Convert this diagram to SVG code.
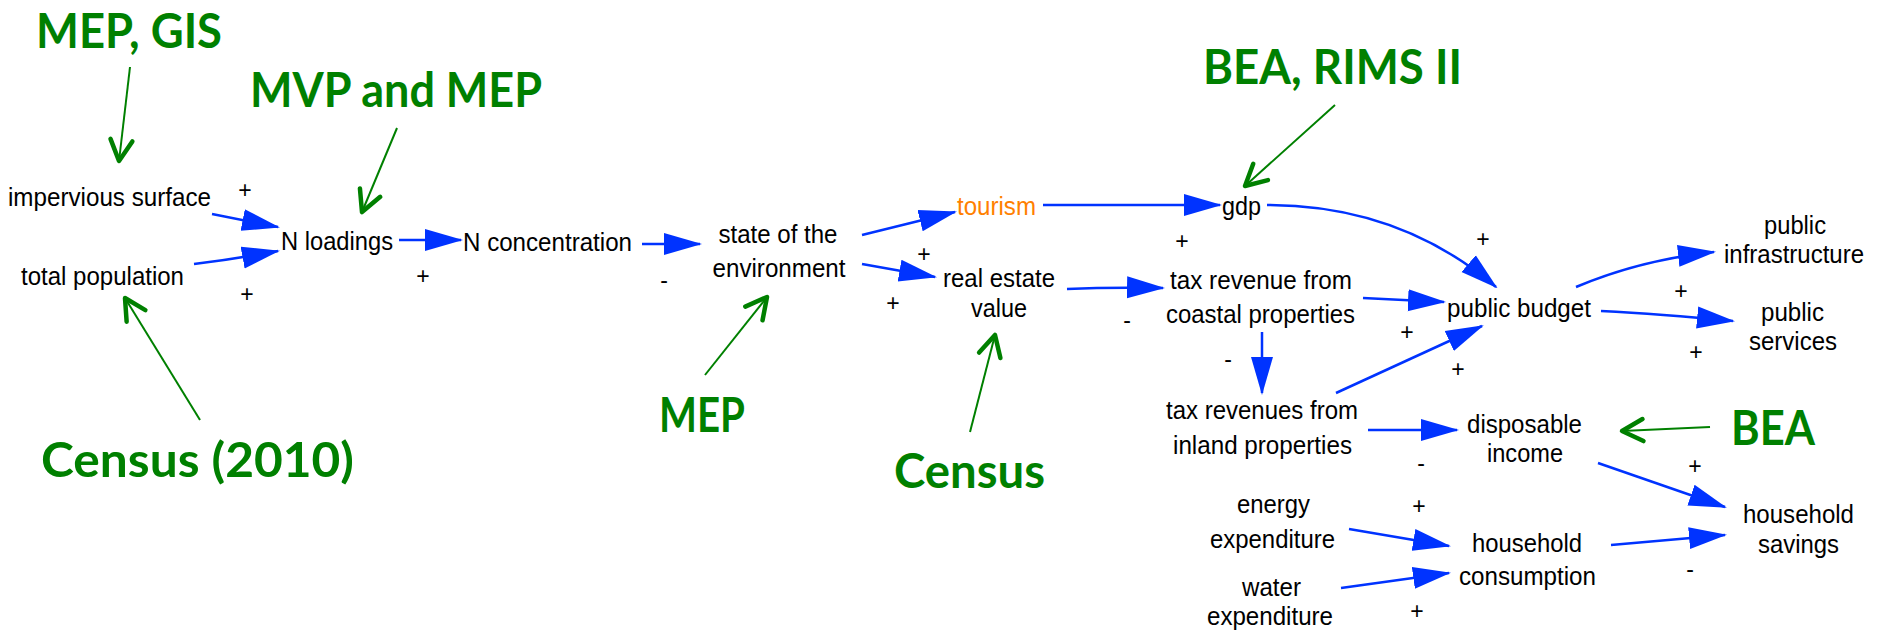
<svg xmlns="http://www.w3.org/2000/svg" width="1879" height="630" viewBox="0 0 1879 630">
<style>
.t{font-family:"Liberation Sans",Arial,sans-serif;font-size:25px;fill:#000;text-anchor:middle}
.s{font-family:"Liberation Sans",Arial,sans-serif;font-size:23px;fill:#000;text-anchor:middle}
.g{font-family:Lato,"Open Sans",sans-serif;font-size:47px;font-weight:bold;fill:#008000}
.b{fill:none;stroke:#0033ff;stroke-width:2.5;marker-end:url(#ah)}
.gl{fill:none;stroke:#008000;stroke-width:2;marker-end:url(#ga)}
</style>
<defs>
<marker id="ah" viewBox="0 0 38 24" refX="36" refY="12" markerWidth="38" markerHeight="24" orient="auto" markerUnits="userSpaceOnUse"><path d="M0,1 L38,12 L0,23 z" fill="#0033ff"/></marker>
<marker id="ga" viewBox="-4 -15 30 30" refX="22" refY="0" markerWidth="30" markerHeight="30" orient="auto" markerUnits="userSpaceOnUse"><path d="M1,-11 L22,0 L1,11" fill="none" stroke="#008000" stroke-width="4.5" stroke-linecap="round" stroke-linejoin="round"/></marker>
</defs>
<rect width="1879" height="630" fill="#fff"/>
<g id="connectors">
<path class="b" d="M212,214 L278,227"/>
<path class="b" d="M194,264 Q235,259 278,251"/>
<path class="b" d="M399,240 L461,240"/>
<path class="b" d="M642,244 L700,244"/>
<path class="b" d="M862,235 L955,212"/>
<path class="b" d="M862,264 L935,277"/>
<path class="b" d="M1043,205 L1220,205"/>
<path class="b" d="M1067,289 Q1110,287 1163,288"/>
<path class="b" d="M1267,205 Q1400,205 1496,287"/>
<path class="b" d="M1363,298 L1444,302"/>
<path class="b" d="M1262,332 L1262,393"/>
<path class="b" d="M1336,393 L1482,326"/>
<path class="b" d="M1576,287 Q1640,260 1714,252"/>
<path class="b" d="M1601,311 Q1660,314 1733,321"/>
<path class="b" d="M1368,430 L1457,430"/>
<path class="b" d="M1598,463 L1725,507"/>
<path class="b" d="M1349,529 L1449,546"/>
<path class="b" d="M1341,588 L1449,573"/>
<path class="b" d="M1611,545 L1725,535"/>
<path class="gl" d="M130,67 L119,161"/>
<path class="gl" d="M397,128 L362,212"/>
<path class="gl" d="M1335,105 L1245,186"/>
<path class="gl" d="M200,420 L125,298"/>
<path class="gl" d="M705,375 L767,297"/>
<path class="gl" d="M970,432 L995,335"/>
<path class="gl" d="M1710,427 L1622,431"/>
</g>
<g id="polarities">
<text class="s" x="245" y="198">+</text>
<text class="s" x="247" y="302">+</text>
<text class="s" x="423" y="284">+</text>
<text class="s" x="924" y="262">+</text>
<text class="s" x="893" y="311">+</text>
<text class="s" x="1182" y="249">+</text>
<text class="s" x="1483" y="247">+</text>
<text class="s" x="1407" y="340">+</text>
<text class="s" x="1458" y="377">+</text>
<text class="s" x="1681" y="299">+</text>
<text class="s" x="1696" y="360">+</text>
<text class="s" x="1695" y="474">+</text>
<text class="s" x="1419" y="514">+</text>
<text class="s" x="1417" y="619">+</text>
<text class="s" x="664" y="288">-</text>
<text class="s" x="1127" y="328">-</text>
<text class="s" x="1228" y="367">-</text>
<text class="s" x="1421" y="471">-</text>
<text class="s" x="1690" y="577">-</text>
</g>
<g id="impervious-surface"><text class="t" x="109.5" y="206" textLength="203" lengthAdjust="spacingAndGlyphs">impervious surface</text></g>
<g id="total-population"><text class="t" x="102.5" y="285" textLength="163" lengthAdjust="spacingAndGlyphs">total population</text></g>
<g id="n-loadings"><text class="t" x="337" y="250" textLength="112" lengthAdjust="spacingAndGlyphs">N loadings</text></g>
<g id="n-concentration"><text class="t" x="547.5" y="251" textLength="169" lengthAdjust="spacingAndGlyphs">N concentration</text></g>
<g id="state-of-environment"><text class="t" x="778" y="243" textLength="119" lengthAdjust="spacingAndGlyphs">state of the</text><text class="t" x="779" y="277" textLength="133" lengthAdjust="spacingAndGlyphs">environment</text></g>
<g id="tourism"><text class="t" x="996.5" y="215" style="fill:#ff8000" textLength="79" lengthAdjust="spacingAndGlyphs">tourism</text></g>
<g id="real-estate-value"><text class="t" x="999" y="287" textLength="112" lengthAdjust="spacingAndGlyphs">real estate</text><text class="t" x="999" y="317" textLength="56" lengthAdjust="spacingAndGlyphs">value</text></g>
<g id="gdp"><text class="t" x="1241.5" y="215" textLength="39" lengthAdjust="spacingAndGlyphs">gdp</text></g>
<g id="tax-coastal"><text class="t" x="1261" y="289" textLength="182" lengthAdjust="spacingAndGlyphs">tax revenue from</text><text class="t" x="1260.5" y="323" textLength="189" lengthAdjust="spacingAndGlyphs">coastal properties</text></g>
<g id="public-budget"><text class="t" x="1519" y="317" textLength="144" lengthAdjust="spacingAndGlyphs">public budget</text></g>
<g id="public-infrastructure"><text class="t" x="1795" y="234" textLength="62" lengthAdjust="spacingAndGlyphs">public</text><text class="t" x="1794" y="263" textLength="140" lengthAdjust="spacingAndGlyphs">infrastructure</text></g>
<g id="public-services"><text class="t" x="1792.5" y="321" textLength="63" lengthAdjust="spacingAndGlyphs">public</text><text class="t" x="1793" y="350" textLength="88" lengthAdjust="spacingAndGlyphs">services</text></g>
<g id="tax-inland"><text class="t" x="1262" y="419" textLength="192" lengthAdjust="spacingAndGlyphs">tax revenues from</text><text class="t" x="1262.5" y="454" textLength="179" lengthAdjust="spacingAndGlyphs">inland properties</text></g>
<g id="disposable-income"><text class="t" x="1524.5" y="433" textLength="115" lengthAdjust="spacingAndGlyphs">disposable</text><text class="t" x="1525" y="462" textLength="76" lengthAdjust="spacingAndGlyphs">income</text></g>
<g id="energy-expenditure"><text class="t" x="1273.5" y="513" textLength="73" lengthAdjust="spacingAndGlyphs">energy</text><text class="t" x="1272.5" y="548" textLength="125" lengthAdjust="spacingAndGlyphs">expenditure</text></g>
<g id="household-consumption"><text class="t" x="1527" y="552" textLength="110" lengthAdjust="spacingAndGlyphs">household</text><text class="t" x="1527.5" y="585" textLength="137" lengthAdjust="spacingAndGlyphs">consumption</text></g>
<g id="water-expenditure"><text class="t" x="1271.5" y="596" textLength="59" lengthAdjust="spacingAndGlyphs">water</text><text class="t" x="1270" y="625" textLength="126" lengthAdjust="spacingAndGlyphs">expenditure</text></g>
<g id="household-savings"><text class="t" x="1798.5" y="523" textLength="111" lengthAdjust="spacingAndGlyphs">household</text><text class="t" x="1798.5" y="553" textLength="81" lengthAdjust="spacingAndGlyphs">savings</text></g>
<g id="src-mep-gis"><text class="g" x="36" y="48" textLength="186" lengthAdjust="spacingAndGlyphs">MEP, GIS</text></g>
<g id="src-mvp-mep"><text class="g" x="250" y="107" textLength="292" lengthAdjust="spacingAndGlyphs">MVP and MEP</text></g>
<g id="src-bea-rims"><text class="g" x="1203" y="84" textLength="259" lengthAdjust="spacingAndGlyphs">BEA, RIMS II</text></g>
<g id="src-census-2010"><text class="g" x="41" y="477" textLength="313" lengthAdjust="spacingAndGlyphs">Census (2010)</text></g>
<g id="src-mep"><text class="g" x="659" y="432" textLength="86" lengthAdjust="spacingAndGlyphs">MEP</text></g>
<g id="src-census"><text class="g" x="894" y="488" textLength="151" lengthAdjust="spacingAndGlyphs">Census</text></g>
<g id="src-bea"><text class="g" x="1731" y="445" textLength="84" lengthAdjust="spacingAndGlyphs">BEA</text></g>
</svg>
